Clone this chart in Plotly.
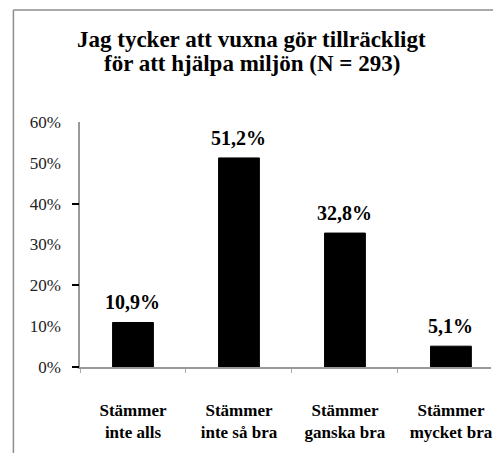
import plotly.graph_objects as go

categories = ["Stämmer<br>inte alls", "Stämmer<br>inte så bra", "Stämmer<br>ganska bra", "Stämmer<br>mycket bra"]
values = [0.109, 0.512, 0.328, 0.051]
value_labels = ["10,9%", "51,2%", "32,8%", "5,1%"]
y_tickvals = [0, 0.1, 0.2, 0.3, 0.4, 0.5, 0.6]
y_ticktext = ["0%", "10%", "20%", "30%", "40%", "50%", "60%"]
title_lines = ["Jag tycker att vuxna gör tillräckligt", "för att hjälpa miljön (N = 293)"]

SERIF = "Liberation Serif, Times New Roman, serif"

fig = go.Figure()
fig.add_trace(go.Bar(x=categories, y=values, marker=dict(color="black", line=dict(color="black", width=1)),
                     hoverinfo="skip", showlegend=False))
# invisible trace for secondary tick axis
fig.add_trace(go.Scatter(x=[categories[0]], y=[0], yaxis="y2", mode="markers",
                         marker=dict(opacity=0), showlegend=False, hoverinfo="skip"))

for c, v, t in zip(categories, values, value_labels):
    fig.add_annotation(x=c, y=v, text="<b>" + t + "</b>", showarrow=False, yanchor="bottom",
                       yshift=7, font=dict(family=SERIF, size=20, color="black"))

for line, ypos in zip(title_lines, [1.338, 1.24]):
    fig.add_annotation(xref="paper", yref="paper", x=0.418, y=ypos, text="<b>" + line + "</b>",
                       showarrow=False, xanchor="center", yanchor="middle",
                       font=dict(family=SERIF, size=23, color="black"))

# outer border of the chart area (left and top edges visible in the crop)
border = dict(color="#8c8c8c", width=1.5)
fig.add_shape(type="line", xref="paper", yref="paper", x0=-0.162, x1=-0.162, y0=-0.7, y1=1.457,
              line=border, layer="below")
fig.add_shape(type="line", xref="paper", yref="paper", x0=-0.162, x1=1.3, y0=1.457, y1=1.457,
              line=border, layer="below")

cat_labels = ["<b>" + c + "</b>" for c in categories]

fig.update_layout(
    width=485, height=445, autosize=False,
    margin=dict(l=72, r=0, t=114, b=86, pad=0),
    paper_bgcolor="white", plot_bgcolor="white",
    bargap=0.615,
    xaxis=dict(range=[-0.5, 3.378], showline=True, linecolor="#999999", linewidth=1.5,
               ticks="outside", tickson="boundaries", ticklen=4, tickcolor="#aaaaaa",
               showgrid=False, tickfont=dict(family=SERIF, size=17, color="black"),
               tickvals=categories, ticktext=cat_labels,
               ticklabelstandoff=27, fixedrange=True),
    yaxis=dict(range=[0, 0.6], tickvals=y_tickvals, ticktext=y_ticktext, showline=True,
               linecolor="#999999", linewidth=1.5, ticks="outside", ticklen=14,
               tickcolor="rgba(0,0,0,0)", showgrid=False, zeroline=False,
               tickfont=dict(family=SERIF, size=17, color="#222222")),
    yaxis2=dict(range=[0, 0.6], overlaying="y", side="left", tickvals=[0, 0.2, 0.4],
                ticks="outside", ticklen=7, tickcolor="black", tickwidth=1.5,
                showticklabels=False, showgrid=False, zeroline=False, showline=False),
)

fig.write_html("out.html")
